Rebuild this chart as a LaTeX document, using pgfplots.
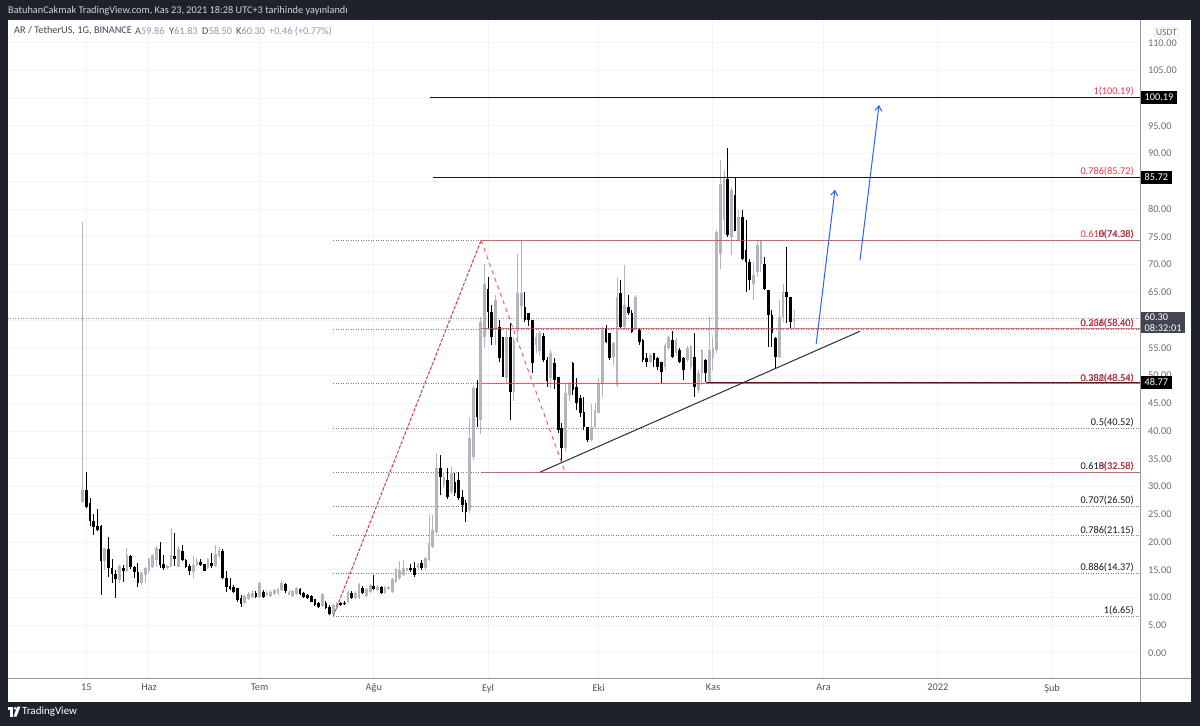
\documentclass[border=0pt]{standalone}
\usepackage{pgfplots}
\pgfplotsset{compat=1.18}
\usepackage{pgfplotstable}
\usepackage{fontspec}
\setmainfont{Carlito}
\usetikzlibrary{arrows.meta}
\definecolor{frame}{RGB}{30,34,45}
\definecolor{upc}{RGB}{178,181,190}
\definecolor{dnc}{RGB}{0,0,0}
\definecolor{gridc}{RGB}{240,243,250}
\definecolor{tvred}{RGB}{242,54,69}
\definecolor{tvblue}{RGB}{41,98,255}
\definecolor{xlab}{RGB}{80,83,94}
\definecolor{ylab}{RGB}{106,109,120}
\definecolor{dotc}{RGB}{120,123,134}
\definecolor{sepc}{RGB}{149,152,161}
\definecolor{dark}{RGB}{19,23,34}
\definecolor{valc}{RGB}{150,153,162}
\definecolor{slate}{RGB}{42,46,57}
\definecolor{boxg}{RGB}{67,70,81}
\definecolor{hdr}{RGB}{209,212,220}
\pgfplotstableread{
d O H L C
-18 27.3 77.7 27.0 29.4
-17 29.3 32.7 26.1 26.4
-16 27.0 28.0 22.8 23.85
-15 23.85 25.0 21.3 22.65
-14 22.9 25.9 22.0 22.2
-13 22.95 23.0 10.45 16.5
-12 16.5 18.9 14.95 18.9
-11 18.75 20.85 13.75 15.25
-10 15.25 16.9 12.55 14.25
-9 14.25 15.0 10.0 13.3
-8 13.2 15.9 12.55 15.7
-7 15.25 15.9 12.85 14.85
-6 14.85 18.9 14.6 17.65
-5 17.5 17.7 15.2 15.55
-4 15.55 15.7 13.45 14.65
-3 14.65 16.15 11.95 12.65
-2 12.65 14.6 12.25 14.35
-1 14.05 15.5 12.55 15.25
0 14.85 17.2 14.5 17.05
1 15.55 17.9 15.3 17.65
2 16.75 19.2 15.5 18.9
3 18.75 20.05 15.3 15.9
4 16.1 17.7 15.0 15.25
5 15.3 15.9 15.1 15.7
6 15.55 22.45 15.5 17.65
7 17.45 21.6 15.6 17.0
8 15.55 19.2 15.5 18.75
9 18.3 19.5 16.5 16.7
10 16.7 16.9 15.25 15.56
11 15.7 16.0 14.05 14.85
12 14.65 17.4 13.45 15.86
13 15.86 17.05 15.7 16.6
14 16.45 16.9 15.7 15.86
15 15.98 16.1 14.85 14.85
16 15.25 17.1 15.1 16.9
17 16.3 17.97 15.25 15.7
18 15.7 19.5 15.5 17.85
19 17.5 19.1 17.2 18.6
20 18.45 18.7 13.3 13.45
21 13.45 14.85 11.05 11.95
22 12.05 13.45 11.35 11.45
23 11.95 12.25 10.85 11.05
24 11.65 11.8 9.25 9.55
25 9.85 10.45 8.35 8.85
26 9.05 10.5 8.9 10.25
27 9.7 11.0 9.6 10.55
28 10.15 11.35 10.0 10.85
29 10.85 11.1 9.9 10.15
30 10.15 12.8 10.0 12.55
31 11.05 11.3 9.9 10.15
32 10.45 11.2 10.3 10.9
33 10.25 11.4 10.1 11.05
34 10.6 11.6 10.4 11.35
35 10.75 11.8 10.5 11.5
36 11.3 13.0 11.1 12.6
37 12.4 12.6 10.9 11.1
38 10.5 11.3 10.4 11.05
39 10.25 11.4 10.1 11.2
40 10.6 11.85 10.5 11.65
41 11.45 11.7 10.4 10.6
42 10.75 11.0 10.0 10.15
43 10.45 10.7 9.8 10.0
44 10.25 10.4 9.1 9.25
45 9.65 9.8 8.5 8.65
46 9.05 9.2 8.1 8.35
47 8.45 10.75 8.3 10.6
48 9.05 9.3 7.9 8.05
49 8.35 8.65 6.8 7.0
50 7.05 8.9 6.65 8.65
51 8.05 9.2 7.9 8.95
52 8.95 9.1 8.5 8.7
53 9.05 9.3 8.6 8.8
54 9.25 11.3 9.0 11.05
55 10.9 11.2 9.8 9.95
56 9.95 11.1 9.7 10.9
57 9.9 12.55 9.8 12.4
58 11.65 12.0 10.6 10.75
59 10.3 11.7 10.1 11.5
60 11.05 12.4 10.9 12.25
61 12.05 14.05 11.3 11.45
62 11.35 12.2 11.2 11.95
63 11.85 12.1 10.7 10.85
64 10.85 12.1 10.7 11.95
65 11.5 12.1 11.3 11.95
66 11.05 13.6 10.9 13.3
67 12.85 15.3 12.7 15.1
68 13.45 16.6 13.1 14.95
69 14.05 16.75 13.9 15.25
70 14.85 15.4 14.7 15.25
71 15.4 16.0 14.65 14.95
72 15.4 16.45 13.75 14.05
73 15.25 16.3 15.0 16.0
74 16.2 16.75 15.0 15.25
75 15.25 17.3 15.0 17.05
76 16.75 24.9 16.6 19.75
77 19.15 24.9 19.0 22.15
78 21.85 36.1 21.5 33.3
79 33.3 35.7 28.5 31.8
80 30.3 32.4 29.8 31.8
81 31.2 33.3 27.8 28.2
82 29.1 33.6 28.6 32.4
83 30.9 32.4 28.3 28.8
84 31.2 32.7 27.6 27.9
85 28.2 29.4 25.5 26.7
86 27.0 27.6 23.6 25.5
87 25.8 42.6 25.2 38.7
88 35.4 48.3 34.8 47.7
89 47.7 49.2 40.8 42.6
90 42.0 60.6 39.5 59.7
91 57.0 70.2 55.0 66.5
92 65.7 67.8 58.5 61.5
93 61.5 62.8 55.5 57.0
94 58.2 64.5 55.5 63.6
95 58.8 60.0 52.5 53.1
96 57.0 57.0 49.8 49.8
97 49.5 58.5 48.6 57.0
98 57.0 59.4 42.0 47.0
99 47.0 57.0 45.5 56.5
100 58.0 72.0 56.0 64.8
101 62.5 74.38 60.5 64.8
102 62.4 65.1 59.7 60.0
103 61.2 61.2 59.0 60.0
104 60.0 60.0 50.4 52.2
105 55.5 57.6 54.0 57.0
106 54.5 58.0 53.5 57.6
107 57.1 57.6 52.5 52.8
108 52.8 53.4 48.0 49.0
109 49.5 54.6 47.7 54.0
110 52.2 53.1 47.5 49.2
111 49.8 49.8 39.6 40.2
112 40.5 41.4 34.2 36.9
113 36.9 48.6 36.3 46.8
114 46.5 48.9 45.5 48.6
115 52.2 52.5 46.5 47.4
116 47.9 49.5 43.8 45.0
117 45.9 46.5 42.6 43.2
118 43.5 46.2 40.2 40.8
119 40.8 40.8 38.0 38.4
120 38.4 44.9 38.3 40.8
121 40.8 45.0 40.5 43.8
122 43.2 49.5 43.2 48.6
123 48.6 58.8 46.2 58.5
124 58.5 59.1 55.8 56.1
125 57.6 57.6 52.8 53.1
126 53.4 56.1 52.0 55.8
127 48.3 67.8 48.0 64.2
128 64.8 67.2 58.5 58.8
129 58.8 70.0 58.2 62.7
130 62.4 64.5 61.0 61.2
131 61.2 61.8 57.6 57.9
132 58.2 64.5 58.2 64.2
133 58.2 58.5 55.5 56.1
134 56.4 56.6 52.5 52.8
135 53.1 54.0 51.6 52.5
136 52.5 54.0 52.2 53.8
137 54.0 54.0 51.6 52.8
138 53.1 53.4 51.0 51.6
139 52.5 52.5 48.6 50.7
140 51.6 55.8 51.0 55.5
141 54.9 57.2 54.6 57.0
142 56.5 58.0 53.1 53.4
143 54.0 56.8 53.6 56.4
144 54.7 54.9 52.2 52.5
145 53.1 53.4 49.2 51.0
146 52.8 55.3 52.5 54.9
147 51.6 55.6 51.0 55.3
148 53.4 57.6 46.2 48.0
149 47.4 51.0 46.8 50.4
150 50.4 54.8 48.3 54.6
151 52.8 53.0 48.9 50.4
152 48.9 60.6 48.6 54.7
153 53.1 57.0 51.0 54.9
154 54.6 76.2 54.0 75.9
155 72.0 88.9 69.3 84.6
156 78.0 87.0 75.6 85.5
157 85.5 91.0 74.9 75.3
158 75.0 84.0 71.7 83.4
159 82.6 85.6 76.0 76.0
160 74.5 79.8 74.4 78.6
161 78.6 79.8 70.8 71.1
162 72.6 78.0 65.1 70.5
163 70.5 71.1 65.4 67.2
164 66.6 70.5 63.6 68.1
165 68.7 74.4 67.8 73.5
166 70.2 74.4 68.7 74.4
167 70.2 71.4 65.4 65.7
168 65.4 65.4 55.2 60.9
169 60.9 61.8 55.2 57.6
170 56.7 57.0 51.2 53.4
171 53.4 63.6 53.1 60.6
172 60.6 66.6 59.7 65.1
173 65.1 73.2 59.4 64.2
174 64.2 64.2 58.5 59.7
175 59.86 61.83 58.50 60.30
}\candles
\newcommand{\lf}{\fontsize{10.3}{12}\selectfont}
\begin{document}
\begin{tikzpicture}[x=1pt,y=1pt]
\fill[frame] (0,0) rectangle (1200,726);
\fill[white] (8,24) rectangle (1191,706);
\begin{axis}[
  at={(8pt,47pt)}, anchor=south west, scale only axis,
  width=1132pt, height=659pt,
  xmin=-38.25, xmax=268.85, ymin=-4.69, ymax=114.1,
  clip mode=individual,
  axis line style={draw=none},
  major tick length=0pt,
  grid=major, major grid style={draw=gridc, line width=1pt},
  xtick={-17,0,30,61,92,122,153,183,214,245},
  xticklabels={15,Haz,Tem,Ağu,Eyl,Eki,Kas,Ara,2022,Şub},
  xticklabel style={font=\lf, text=xlab, yshift=-1.5pt},
  ytick={0,5,...,110},
  yticklabel pos=right,
  scaled y ticks=false,
  yticklabel style={font=\lf, text=ylab, xshift=4.5pt,
     /pgf/number format/.cd, fixed, fixed zerofill, precision=2, assume math mode=true},
]
% current price line
\addplot[forget plot, sepc, line width=0.8pt, dash pattern=on 1pt off 1.5pt] coordinates {(-38.25,60.30) (268.85,60.30)};
% retracement dotted levels
\foreach \lv in {74.38,58.40,48.54,40.52,32.58,26.50,21.15,14.37,6.65}{
  \edef\tmp{\noexpand\addplot[forget plot, dotc, line width=0.9pt, dash pattern=on 1pt off 1.5pt] coordinates {(50,\lv) (268.85,\lv)};}
  \tmp
}
% wicks up
\addplot[forget plot, draw=none, mark=none, restrict y to domain=-100:300,
  error bars/.cd, y dir=both, y explicit, error mark=none,
  error bar style={draw=upc, line width=1pt}]
  table[x=d, y expr={ifthenelse(\thisrow{C}+0.0001>\thisrow{O},(\thisrow{H}+\thisrow{L})/2,-1000)}, y error expr={(\thisrow{H}-\thisrow{L})/2}]{\candles};
% wicks down
\addplot[forget plot, draw=none, mark=none, restrict y to domain=-100:300,
  error bars/.cd, y dir=both, y explicit, error mark=none,
  error bar style={draw=dnc, line width=1pt}]
  table[x=d, y expr={ifthenelse(\thisrow{C}+0.0001>\thisrow{O},-1000,(\thisrow{H}+\thisrow{L})/2)}, y error expr={(\thisrow{H}-\thisrow{L})/2}]{\candles};
% bodies up
\addplot[forget plot, draw=none, mark=none, restrict y to domain=-100:300,
  error bars/.cd, y dir=both, y explicit, error mark=none,
  error bar style={draw=upc, line width=2.7pt}]
  table[x=d, y expr={ifthenelse(\thisrow{C}+0.0001>\thisrow{O},(\thisrow{O}+\thisrow{C})/2,-1000)}, y error expr={max(abs(\thisrow{C}-\thisrow{O})/2,0.09)}]{\candles};
% bodies down
\addplot[forget plot, draw=none, mark=none, restrict y to domain=-100:300,
  error bars/.cd, y dir=both, y explicit, error mark=none,
  error bar style={draw=dnc, line width=2.7pt}]
  table[x=d, y expr={ifthenelse(\thisrow{C}+0.0001>\thisrow{O},-1000,(\thisrow{O}+\thisrow{C})/2)}, y error expr={max(abs(\thisrow{C}-\thisrow{O})/2,0.09)}]{\candles};
% extension tool lines
\addplot[forget plot, dark, line width=1pt] coordinates {(76.2,100.19) (268.85,100.19)};
\addplot[forget plot, dark, line width=1pt] coordinates {(77.0,85.72) (268.85,85.72)};
\foreach \lv in {74.38,58.40,48.54,32.58}{
  \edef\tmp{\noexpand\addplot[forget plot, tvred, opacity=0.75, line width=1pt] coordinates {(90.1,\lv) (268.85,\lv)};}
  \tmp
}
\addplot[forget plot, slate, line width=1pt] coordinates {(151.1,48.77) (268.85,48.77)};
% A->B and B->C
\addplot[forget plot, dotc, line width=0.9pt, dash pattern=on 1pt off 1.5pt] coordinates {(50,6.65) (90.1,74.38)};
\addplot[forget plot, tvred, line width=1pt, dash pattern=on 2.5pt off 2.5pt] coordinates {(50,6.65) (90.1,74.38)};
\addplot[forget plot, tvred!80, line width=1pt, dash pattern=on 4pt off 4pt] coordinates {(90.1,74.38) (112.9,32.58)};
% trend line
\addplot[forget plot, dark!90, line width=1pt] coordinates {(106.1,32.6) (192.9,58.0)};
% blue arrows
\addplot[forget plot, tvblue, line width=1pt, -{Straight Barb[length=5pt,width=7pt]}] coordinates {(181.0,55.7) (186.1,83.5)};
\addplot[forget plot, tvblue, line width=1pt, -{Straight Barb[length=5pt,width=7pt]}] coordinates {(192.9,70.84) (198.05,98.77)};
% anchor coordinates for labels
\coordinate (L1) at (axis cs:267.2,100.19);
\coordinate (L2) at (axis cs:267.2,85.72);
\coordinate (L3) at (axis cs:267.2,74.38);
\coordinate (L4) at (axis cs:267.2,58.40);
\coordinate (L5) at (axis cs:267.2,48.54);
\coordinate (L6) at (axis cs:267.2,40.52);
\coordinate (L7) at (axis cs:267.2,32.58);
\coordinate (L8) at (axis cs:267.2,26.50);
\coordinate (L9) at (axis cs:267.2,21.15);
\coordinate (L10) at (axis cs:267.2,14.37);
\coordinate (L11) at (axis cs:267.2,6.65);
\coordinate (B1) at (axis cs:268.85,100.19);
\coordinate (B2) at (axis cs:268.85,85.72);
\coordinate (B3) at (axis cs:268.85,60.30);
\coordinate (B4) at (axis cs:268.85,48.77);
\end{axis}
% separators
\draw[sepc, line width=1pt] (8,47) -- (1191,47);
\draw[sepc, line width=1pt] (1140,24) -- (1140,706);
% fib labels
\begin{scope}[every node/.style={font=\lf, inner sep=0pt, anchor=base east, yshift=2.5pt}]
\node[text=tvred] at (L1) {1(100.19)};
\node[text=tvred] at (L2) {0.786(85.72)};
\node[text=dark] at (L3) {0(74.38)};
\node[text=tvred] at (L3) {0.618(74.38)};
\node[text=dark] at (L4) {0.236(58.40)};
\node[text=tvred] at (L4) {0.382(58.40)};
\node[text=dark] at (L5) {0.382(48.54)};
\node[text=tvred] at (L5) {0.236(48.54)};
\node[text=dark] at (L6) {0.5(40.52)};
\node[text=dark] at (L7) {0.618(32.58)};
\node[text=tvred] at (L7) {0(32.58)};
\node[text=dark] at (L8) {0.707(26.50)};
\node[text=dark] at (L9) {0.786(21.15)};
\node[text=dark] at (L10) {0.886(14.37)};
\node[text=dark] at (L11) {1(6.65)};
\end{scope}
% price boxes
\begin{scope}[every node/.style={font=\lf, text=white, inner xsep=3.5pt, inner ysep=0pt, minimum height=13pt, anchor=west, xshift=1pt}]
\node[fill=black] at (B1) {100.19};
\node[fill=black] at (B2) {85.72};
\node[fill=black] at (B4) {48.77};
\end{scope}
\node[font=\lf, text=white, fill=boxg, anchor=north west, xshift=1pt, yshift=6.5pt, inner xsep=3.5pt, inner ysep=1.5pt, align=left] at (B3) {60.30\\[-1.5pt]08:32:01};
% USDT box
\node[draw=hdr, rounded corners=2pt, font=\fontsize{9.5}{11}\selectfont, text=ylab, inner xsep=2pt, inner ysep=1.5pt] at (1166.5,693.5) {USDT};
% header
\node[anchor=west, inner sep=0pt, font=\lf, text=hdr] at (8,715) {BatuhanCakmak TradingView.com, Kas 23, 2021 18:28 UTC+3 tarihinde yayınlandı};
% legend
\begin{scope}[every node/.style={anchor=west, inner sep=0pt, font=\lf}]
\node[text=boxg] at (14,695) {AR / TetherUS, 1G, BINANCE};
\node at (135,695) {\textcolor{xlab}{A}\textcolor{valc}{59.86}};
\node at (169,695) {\textcolor{xlab}{Y}\textcolor{valc}{61.83}};
\node at (202,695) {\textcolor{xlab}{D}\textcolor{valc}{58.50}};
\node at (236,695) {\textcolor{xlab}{K}\textcolor{valc}{60.30}};
\node[text=valc] at (269,695) {+0.46 (+0.77\%)};
\end{scope}
% TradingView logo
\fill[white] (7.5,16.5) rectangle (13,19.5);
\fill[white] (10,9.5) rectangle (13,19.5);
\fill[white] (15.2,17.6) circle (1.5);
\fill[white] (17.2,19.5) -- (20.5,19.5) -- (16.6,9.5) -- (13.6,9.5) -- cycle;
\node[anchor=west, inner sep=0pt, font=\fontsize{11}{13}\selectfont, text=white] at (22,14) {TradingView};
\end{tikzpicture}
\end{document}
